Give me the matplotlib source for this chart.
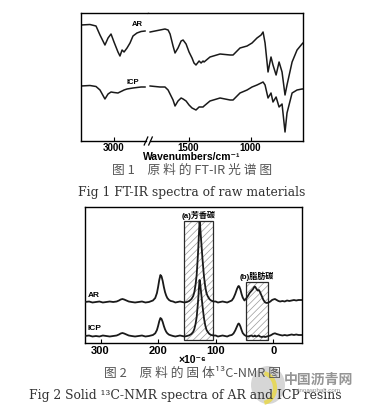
import matplotlib.pyplot as plt
from matplotlib.patches import Rectangle, Circle, Arc
from matplotlib.lines import Line2D

W, H = 371, 415

# ---- Fig 1: FT-IR (broken wavenumber axis) ----
ir_wn_high = [3266, 3194, 3145, 3113, 3073, 3048, 3024, 3000, 2968, 2952, 2935,
              2919, 2895, 2871, 2847, 2815, 2782, 2750]
ir_ar_high = [116, 116.5, 115, 106, 96, 103, 107, 99, 89, 85, 91,
              89, 93, 98, 105, 108, 109.5, 110]
ir_icp_high = [55, 55.5, 54.5, 51, 42, 47, 49, 48.5, 48, 49, 50,
               51, 52, 52.5, 53, 53.5, 54, 54]

ir_wn_low = [1810, 1770, 1730, 1690, 1665, 1649, 1625, 1609, 1585, 1560, 1544,
             1520, 1496, 1472, 1456, 1440, 1415, 1399, 1383, 1375, 1327, 1246,
             1165, 1141, 1085, 1028, 988, 948, 915, 899, 883, 859, 835, 819,
             794, 770, 746, 722, 706, 665, 625, 585, 577]
ir_ar_low = [109, 110, 111, 112, 111, 107, 95, 88, 93, 100, 101,
             97, 89, 83, 78, 76, 80, 78, 80, 79, 84, 87,
             86, 86, 93, 95, 98, 103, 106, 109, 98, 69, 84, 76,
             66, 79, 69, 46, 56, 79, 91, 97, 98]
ir_icp_low = [55, 54.5, 54, 54, 51, 47, 41, 35, 40, 43, 42,
              40, 36, 33, 32, 31, 34, 34, 34, 35, 40, 43,
              41, 41, 48, 51, 54, 56, 58, 59, 56, 43, 48, 39,
              44, 34, 37, 9, 28, 48, 51, 52, 52]

ir_ticks_high = [3000]
ir_ticks_low = [1500, 1000]

# ---- Fig 2: solid 13C-NMR ----
ppm = ([327, 320, 314, 308, 302, 296, 290, 284, 278, 272]
       + [268, 265, 262, 259, 255, 251, 246, 240, 234, 228, 222, 216]
       + [209, 205, 202, 200, 198, 196, 194, 192, 190, 188, 186, 184, 181, 178]
       + [174, 170, 166, 162, 158, 154, 150, 146, 142]
       + [139, 137, 135, 133, 131, 130, 129, 128, 127, 126, 125, 124, 123, 122, 121, 120,
          118, 116, 114, 111, 108, 104]
       + [100, 96, 92, 88, 84, 80, 76, 72, 69, 66, 63, 61, 60, 59, 57, 55, 53, 50]
       + [47, 44, 41, 38, 35, 33, 32, 31, 29, 27, 25, 23, 20, 17, 14, 11, 8, 5, 2, 0]
       + [-3, -6, -9, -12, -16, -20, -24, -28, -32, -36, -40, -44, -50])
nmr_ar = ([41, 41.5, 40.5, 41, 41.5, 40.5, 41, 41.5, 41, 41.5]
          + [42.5, 43.5, 44, 43.5, 42.5, 41.5, 41, 40.5, 41, 41.5, 40.5, 41]
          + [42.5, 45, 50, 56, 63, 68, 66.5, 62, 56, 51, 47.5, 45, 43, 42]
          + [41.5, 40.5, 41, 41.5, 41, 40.5, 41, 42, 44]
          + [47, 51, 58, 68, 86, 97, 110, 121, 117, 109, 101, 93, 85, 78, 71, 65,
             56, 50, 47, 44, 42.5, 41.5]
          + [41.5, 40.5, 41, 41.5, 41, 40.5, 41.5, 42.5, 45, 49, 54, 56.5, 57, 56.5, 53.5, 49, 45.5, 42.5]
          + [44.5, 47, 50, 52, 54, 56, 56.5, 56, 54, 52.5, 53, 51, 47, 43, 40.5, 40, 40.5, 41.5, 43, 43.5]
          + [44, 43, 42, 41.5, 42, 41.5, 42.5, 42, 42.5, 43, 42.5, 43, 43])
nmr_icp = ([7, 7.5, 6.5, 7, 6.5, 7.5, 7, 6.5, 7, 7.5]
           + [8.5, 9.5, 10, 9.5, 8.5, 7.5, 7, 6.5, 7, 7.5, 6.5, 7]
           + [8, 9.7, 13, 17, 21.7, 25, 24, 21, 17, 13.7, 11.3, 9.7, 8.3, 7.7]
           + [7, 6.5, 7, 7.5, 7, 6.5, 7, 7.7, 9.1]
           + [11.2, 14, 18.9, 25.9, 38.5, 46.2, 55.3, 63, 60.2, 54.6, 49, 43.4, 37.8, 32.9, 28, 23.8,
              17.5, 13.3, 11.2, 9.1, 8, 7.5]
           + [7.5, 6.5, 7, 7.5, 7, 6.5, 7.5, 8, 9.5, 12.5, 16.5, 19, 19.5, 19, 16.5, 13, 10, 8]
           + [7, 6.5, 7, 7.5, 6.5, 7, 7.5, 7, 6.5, 7, 7.5, 6.5, 6, 6.5, 6, 6.5, 7, 7.5, 8.5, 9.2]
           + [9.7, 9, 8.5, 8, 7.5, 8, 7.5, 8, 8.5, 8, 8.5, 8, 8])
nmr_ticks = [300, 200, 100, 0]

box_a = (155, 105)   # ppm range, aromatic carbon
box_b = (47, 8.5)    # ppm range, aliphatic carbon


def fx(px):
    return px / W


def fy(py):
    return 1 - py / H


plt.rcParams['hatch.linewidth'] = 0.5
fig = plt.figure(figsize=(W / 100, H / 100), dpi=100)
line_c = '#1a1a1a'
sans = ['Liberation Sans', 'DejaVu Sans']
cjk = ['Liberation Sans', 'Noto Sans CJK SC', 'DejaVu Sans']
cjk_cap = ['Noto Sans CJK SC', 'DejaVu Sans']

# top: two axes forming the broken x axis
ax1 = fig.add_axes([fx(81), fy(141), fx(148) - fx(81), fy(13) - fy(141)])
ax2 = fig.add_axes([fx(148), fy(141), fx(303) - fx(148), fy(13) - fy(141)])
ax1.plot(ir_wn_high, ir_ar_high, color=line_c, lw=1.1)
ax1.plot(ir_wn_high, ir_icp_high, color=line_c, lw=1.1)
ax2.plot(ir_wn_low, ir_ar_low, color=line_c, lw=1.1)
ax2.plot(ir_wn_low, ir_icp_low, color=line_c, lw=1.1)
ax1.set_xlim(3266, 2726)
ax2.set_xlim(1827, 577)
for ax, ticks in ((ax1, ir_ticks_high), (ax2, ir_ticks_low)):
    ax.set_ylim(0, 128)
    ax.set_yticks([])
    ax.set_xticks(ticks)
    ax.set_xticklabels([str(t) for t in ticks], fontsize=7, fontweight='bold', family=sans)
    ax.tick_params(axis='x', direction='in', length=3, width=0.8, pad=1.2)
    for s in ax.spines.values():
        s.set_linewidth(1.0)
ax1.spines['right'].set_visible(False)
ax2.spines['left'].set_visible(False)
ax1.spines['bottom'].set_bounds(3266, 2742)
ax2.spines['bottom'].set_bounds(1810, 577)
for bx in (146, 150.5):
    fig.add_artist(Line2D([fx(bx - 1.8), fx(bx + 1.8)], [fy(145), fy(137)], color='black', lw=0.9))

ax1.text(2815, 116, 'AR', ha='center', va='center', fontsize=5.5, fontweight='bold', family=sans)
ax1.text(2847, 59, 'ICP', ha='center', va='center', fontsize=5.5, fontweight='bold', family=sans)

fig.text(fx(192), fy(157), 'Wavenumbers/cm⁻¹', ha='center', va='center',
         fontsize=7.5, fontweight='bold', family=sans)
fig.text(fx(192), fy(170.5), '图 1　原 料 的 FT-IR 光 谱 图', ha='center', va='center',
         fontsize=9.2, color='#555555', family=cjk_cap)
fig.text(fx(191.5), fy(192), 'Fig 1 FT-IR spectra of raw materials', ha='center', va='center',
         fontsize=8.9, color='#333333', family='DejaVu Serif')

# bottom: NMR
ax3 = fig.add_axes([fx(85), fy(343), fx(302) - fx(85), fy(207) - fy(343)])
for (hi, lo), top in ((box_a, 122), (box_b, 61)):
    ax3.add_patch(Rectangle((lo, 3), hi - lo, top - 3, fill=False, hatch='/////',
                            edgecolor='#9a9a9a', lw=0, zorder=1))
    ax3.add_patch(Rectangle((lo, 3), hi - lo, top - 3, fill=False,
                            edgecolor='#2a2a2a', lw=0.9, zorder=2))
ax3.plot(ppm, nmr_ar, color=line_c, lw=1.3, zorder=3)
ax3.plot(ppm, nmr_icp, color=line_c, lw=1.3, zorder=3)
ax3.set_xlim(327, -50)
ax3.set_ylim(0, 136)
ax3.set_yticks([])
ax3.set_xticks(nmr_ticks)
ax3.set_xticklabels([str(t) for t in nmr_ticks], fontsize=8, fontweight='bold', family=sans)
ax3.tick_params(axis='x', direction='in', length=3, width=0.8, pad=2.5)
for s in ax3.spines.values():
    s.set_linewidth(1.0)

ax3.text(322, 48, 'AR', ha='left', va='center', fontsize=6, fontweight='bold', family=sans)
ax3.text(322, 15, 'ICP', ha='left', va='center', fontsize=6, fontweight='bold', family=sans)
ax3.text(130, 128, '(a)芳香碳', ha='center', va='center', fontsize=5.8, fontweight='bold', family=cjk)
ax3.text(28, 67, '(b)脂肪碳', ha='center', va='center', fontsize=5.8, fontweight='bold', family=cjk)

fig.text(fx(192), fy(360), '×10⁻⁶', ha='center', va='center', fontsize=7.5,
         fontweight='bold', family=sans)
fig.text(fx(192), fy(373), '图 2　原 料 的 固 体¹³C-NMR 图', ha='center', va='center',
         fontsize=9.2, color='#555555', family=cjk_cap)
fig.text(fx(185), fy(395), 'Fig 2 Solid ¹³C-NMR spectra of AR and ICP resins', ha='center',
         va='center', fontsize=8.9, color='#333333', family='DejaVu Serif')

# watermark
fig.add_artist(Circle((fx(268), fy(385)), 17 / W, transform=fig.transFigure,
                      color='#b5b5b5', alpha=0.55, lw=0))
fig.add_artist(Arc((fx(262), fy(388)), 26 / W, 30 / H, theta1=-80, theta2=80,
                   transform=fig.transFigure, color='#e8d84a', lw=3, alpha=0.85))
fig.text(fx(318), fy(380), '中国沥青网', ha='center', va='center', fontsize=10,
         fontweight='bold', color='#8a8a8a', alpha=0.9, family=cjk_cap)
fig.text(fx(318), fy(390), 'sinoasphalt.com', ha='center', va='center', fontsize=4.5,
         color='#8a8a8a', family=sans)

fig.savefig('out.png', dpi=100)
